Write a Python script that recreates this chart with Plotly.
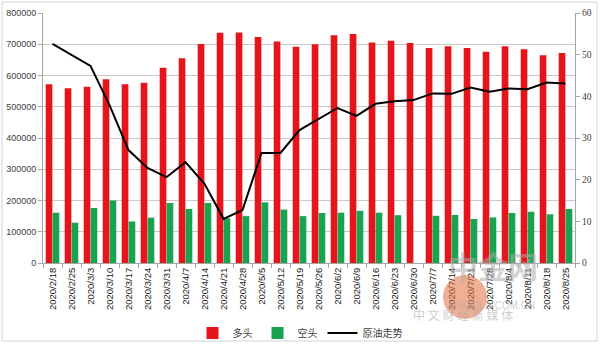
import plotly.graph_objects as go

# Weekly reporting dates
dates = ["2020/2/18", "2020/2/25", "2020/3/3", "2020/3/10", "2020/3/17", "2020/3/24",
         "2020/3/31", "2020/4/7", "2020/4/14", "2020/4/21", "2020/4/28", "2020/5/5",
         "2020/5/12", "2020/5/19", "2020/5/26", "2020/6/2", "2020/6/9", "2020/6/16",
         "2020/6/23", "2020/6/30", "2020/7/7", "2020/7/14", "2020/7/21", "2020/7/28",
         "2020/8/4", "2020/8/11", "2020/8/18", "2020/8/25"]

# Long positions (多头)
longs = [572000, 559000, 564000, 588000, 572000, 577000, 625000, 655000, 701000, 737000,
         738000, 723000, 709000, 692000, 700000, 729000, 733000, 706000, 711000, 704000,
         688000, 694000, 688000, 676000, 694000, 684000, 665000, 672000]

# Short positions (空头); no figure for 2020/6/30
shorts = [161000, 129000, 176000, 200000, 133000, 145000, 192000, 173000, 192000, 143000,
          150000, 194000, 171000, 150000, 160000, 161000, 167000, 161000, 153000, None,
          151000, 154000, 141000, 146000, 160000, 164000, 156000, 173000]

# Crude oil price trend (原油走势), right axis
oil = [52.6, 49.9, 47.3, 37.9, 27.1, 22.8, 20.6, 24.2, 19.0, 10.6, 12.7, 26.4, 26.4,
       31.9, 34.6, 37.2, 35.3, 38.2, 38.8, 39.1, 40.7, 40.6, 42.1, 41.1, 41.9, 41.7,
       43.3, 43.1]

left_ticks = [0, 100000, 200000, 300000, 400000, 500000, 600000, 700000, 800000]
right_ticks = [0, 10, 20, 30, 40, 50, 60]

RED = "#e6141b"
GREEN = "#18a34f"
GRID = "#c9c9c9"
AXIS = "#a6a6a6"
FONT = "Liberation Sans"
TEXT = "#404040"

fig = go.Figure()
fig.add_trace(go.Bar(x=dates, y=longs, name="多头", marker=dict(color=RED, line_width=0)))
fig.add_trace(go.Bar(x=dates, y=shorts, name="空头", marker=dict(color=GREEN, line_width=0)))
fig.add_trace(go.Scatter(x=dates, y=oil, name="原油走势", mode="lines", yaxis="y2",
                         line=dict(color="black", width=2), connectgaps=True))

shapes = [
    # light frame around the whole chart
    dict(type="rect", xref="paper", yref="paper",
         x0=(2 - 43) / 532, x1=(597 - 43) / 532, y0=(263 - 341) / 250, y1=(263 - 2) / 250,
         line=dict(color="#d4d4d4", width=1), fillcolor="rgba(0,0,0,0)", layer="below"),
    # watermark emblem
    dict(type="circle", xref="paper", yref="paper",
         x0=(443 - 43) / 532, x1=(487 - 43) / 532, y0=(263 - 319) / 250, y1=(263 - 275) / 250,
         line=dict(width=0), fillcolor="rgba(226,110,60,0.55)", layer="above"),
]

annotations = [
    dict(text="<b>中金网</b>", xref="paper", yref="paper", x=(540 - 43) / 532, y=(263 - 289) / 250,
         showarrow=False, font=dict(family="Noto Sans CJK SC", size=30, color="rgba(170,170,170,0.55)")),
    dict(text="CNGOLD.COM.CN", xref="paper", yref="paper", x=(537 - 43) / 532, y=(263 - 313) / 250,
         showarrow=False, font=dict(family=FONT, size=10, color="rgba(170,170,170,0.6)")),
    dict(text="中 文 财 经 新 媒 体", xref="paper", yref="paper", x=(515 - 43) / 532, y=(263 - 325) / 250,
         showarrow=False, font=dict(family="Noto Sans CJK SC", size=12, color="rgba(170,170,170,0.6)")),
]

fig.update_layout(
    width=600, height=344,
    margin=dict(l=43, r=25, t=13, b=81),
    paper_bgcolor="white", plot_bgcolor="white",
    barmode="group", bargap=0.27, bargroupgap=0.04,
    font=dict(family=FONT, size=9, color=TEXT),
    showlegend=True,
    legend=dict(orientation="h", x=0.5, xanchor="center", xref="container",
                y=1 - 333 / 344, yanchor="middle", yref="container",
                font=dict(family="Noto Sans CJK SC", size=10, color=TEXT),
                tracegroupgap=0, bgcolor="rgba(0,0,0,0)"),
    xaxis=dict(type="category", tickangle=-90, tickfont=dict(size=9.5, color="#202020"),
               showline=True, linecolor=AXIS, linewidth=1, ticks="outside", ticklen=4,
               tickcolor=AXIS, tickson="boundaries", showgrid=False, automargin=False),
    yaxis=dict(range=[0, 800000], tickvals=left_ticks, ticktext=[str(v) for v in left_ticks],
               showgrid=True, gridcolor=GRID, gridwidth=1, showline=True, linecolor=AXIS,
               ticks="outside", ticklen=4, tickcolor=AXIS, zeroline=False, automargin=False,
               tickfont=dict(size=9, color=TEXT)),
    yaxis2=dict(range=[0, 60], tickvals=right_ticks, overlaying="y", side="right",
                showgrid=False, showline=True, linecolor=AXIS, ticks="outside", ticklen=4,
                tickcolor=AXIS, zeroline=False, automargin=False,
                tickfont=dict(size=9.5, color=TEXT, family="Liberation Serif")),
    shapes=shapes,
    annotations=annotations,
)

fig.write_html("out.html")
